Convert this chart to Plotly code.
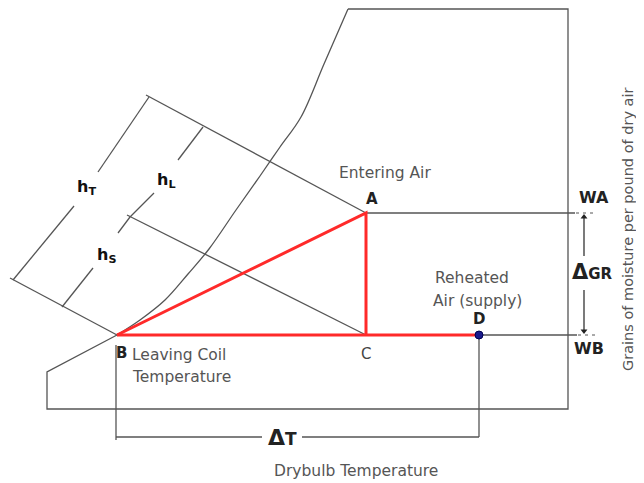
import plotly.graph_objects as go

# ---- diagram data (diagram units, y grows downward) ----
state_names = ["A", "B", "C", "D"]
state_x = [366, 117, 366, 479]
state_y = [213, 335, 335, 335]

# saturation curve (from top of chart down to B)
sat_x = [348, 324, 301, 280, 260, 236, 209, 188, 165, 140, 117]
sat_y = [9, 64, 117, 147, 176, 210, 249, 274, 300, 320, 335]

# chart outline after the saturation curve
outline_x = [117, 47, 47, 568, 568, 348]
outline_y = [335, 372, 409, 409, 9, 9]

# enthalpy lines (start point up-left, end point at state)
hT_line = ([146, 366], [95, 213])
hC_line = ([127, 366], [215, 335])
hB_line = ([10, 117], [278, 335])

# dimension lines (segments with gaps for labels)
dim_segments = [
    ([149, 98], [97, 172]), ([74, 13], [206, 280]),         # hT
    ([203, 178], [127, 160]), ([154, 130], [193, 217]),     # hL
    ([130, 118], [217, 233]), ([93, 62], [268, 307]),       # hS
]

wa_y, wb_y = 213, 335
right_x = 568
dT_y = 437
arrow_x = 584

line_col = "#555555"
red = "#ff2a2a"

fig = go.Figure()

def seg(xs, ys, color=line_col, width=1.3, dash=None, shape="linear"):
    fig.add_trace(go.Scatter(x=xs, y=ys, mode="lines",
                             line=dict(color=color, width=width, dash=dash, shape=shape),
                             hoverinfo="skip", showlegend=False))

# outline + saturation curve
seg(sat_x, sat_y, shape="spline")
seg(outline_x, outline_y)

# enthalpy lines
for xs, ys in (hT_line, hC_line, hB_line):
    seg(xs, ys)
for xs, ys in dim_segments:
    seg(xs, ys)

# humidity lines to the right
seg([state_x[0], right_x + 7], [wa_y, wa_y])
seg([state_x[3], right_x + 9], [wb_y, wb_y])
seg([right_x + 8, right_x + 28], [wa_y, wa_y], width=1, dash="3px,4px")
seg([right_x + 10, right_x + 28], [wb_y, wb_y], width=1, dash="3px,4px")

# delta GR arrow shafts and heads
seg([arrow_x, arrow_x], [wa_y + 3, 256], color="#222", width=1.2)
seg([arrow_x, arrow_x], [290, wb_y - 3], color="#222", width=1.2)
fig.add_trace(go.Scatter(x=[arrow_x, arrow_x], y=[wa_y + 4, wb_y - 4], mode="markers",
                         marker=dict(symbol=["triangle-up", "triangle-down"], size=6, color="#222"),
                         hoverinfo="skip", showlegend=False))

# delta T dimension
seg([state_x[1] - 1, state_x[1] - 1], [345, dT_y + 3])
seg([state_x[3], state_x[3]], [state_y[3], dT_y])
seg([state_x[1] - 1, 262], [dT_y, dT_y])
seg([302, state_x[3]], [dT_y, dT_y])

# red process lines
seg([state_x[1], state_x[0], state_x[2]], [state_y[1], state_y[0], state_y[2]], color=red, width=3)
seg([state_x[1], state_x[3]], [state_y[1], state_y[3]], color=red, width=3)

# point D marker
fig.add_trace(go.Scatter(x=[state_x[3]], y=[state_y[3]], mode="markers",
                         marker=dict(color="#1a1a8c", size=8, line=dict(color="#000050", width=1)),
                         hoverinfo="skip", showlegend=False))

font = "DejaVu Sans, Verdana, sans-serif"

def txt(x, y, s, size=15.5, color="#555555", bold=False, angle=0, xanchor="center"):
    if bold:
        s = "<b>" + s + "</b>"
    fig.add_annotation(x=x, y=y, text=s, showarrow=False, xref="x", yref="y",
                       font=dict(family=font, size=size, color=color),
                       textangle=angle, xanchor=xanchor, yanchor="middle")

txt(385, 173, "Entering Air")
txt(372, 199, "A", 15, "#222", True)
txt(366, 354, "C", 15, "#444")
txt(121, 353, "B", 15, "#222", True)
txt(479, 319, "D", 15, "#222", True)
txt(472, 278, "Reheated")
txt(477, 301, "Air (supply)")
txt(130, 355, "Leaving Coil", xanchor="left")
txt(130, 377, "Temperature", xanchor="left")
txt(594, 197, "WA", 16, "#222", True)
txt(589, 348, "WB", 16, "#222", True)
txt(592, 272, "<span style='font-size:21px'>Δ</span>GR", 15, "#222", True)
txt(282, 437, "<span style='font-size:22px'>Δ</span>T", 17, "#222", True)
txt(356, 471, "Drybulb Temperature")
txt(628, 230, "Grains of moisture per pound of dry air", 14.5, angle=-90)
txt(86, 187, "h<sub>T</sub>", 16, "#111", True)
txt(166, 180, "h<sub>L</sub>", 16, "#111", True)
txt(106, 255, "h<sub>S</sub>", 16, "#111", True)

# the page body adds an 8px margin: size and offset the axes so diagram units map to page pixels
fig.update_layout(
    width=636, height=475, margin=dict(l=0, r=0, t=0, b=0),
    paper_bgcolor="white", plot_bgcolor="white",
    xaxis=dict(range=[8, 644], visible=False, fixedrange=True),
    yaxis=dict(range=[483, 8], visible=False, fixedrange=True),
    showlegend=False,
)
fig.write_html("out.html")
